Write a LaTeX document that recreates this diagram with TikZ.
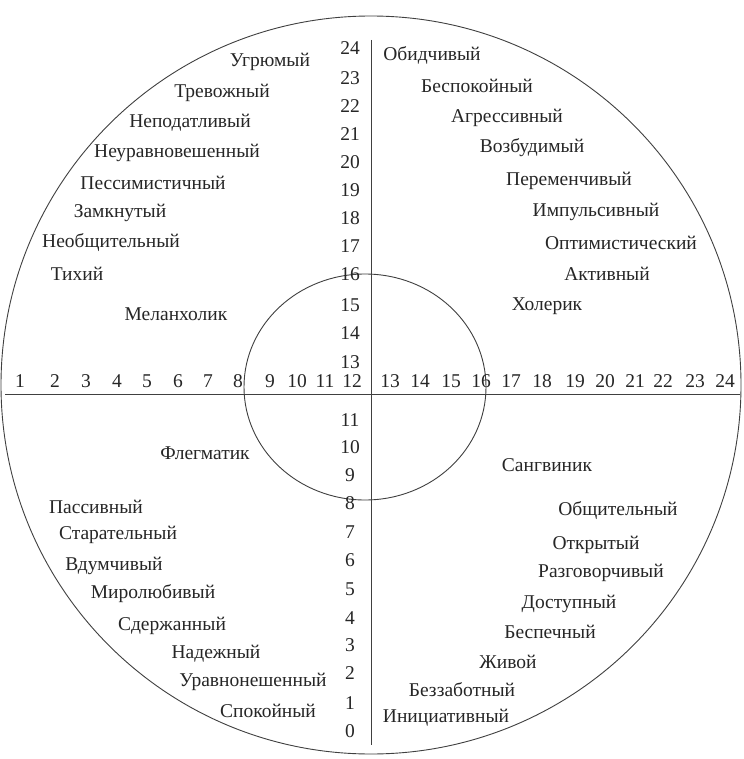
\documentclass[tikz,border=0pt]{standalone}
\usepackage{fontspec}
\usetikzlibrary{shapes.geometric}
\setmainfont{Liberation Serif}
\begin{document}
\begin{tikzpicture}[x=1pt,y=-1pt,
  lbl/.style={font=\fontsize{19.5}{21}\selectfont, text=black!85, inner sep=0pt},
  ln/.style={draw=black!75, line width=0.9pt}]
\useasboundingbox (0,0) rectangle (743,759);
\fill[white] (0,0) rectangle (743,759);
\node[ln, ellipse, minimum width=740, minimum height=738, inner sep=0] (big) at (371,385) {};
\draw[ln] (365,387) ellipse [x radius=121, y radius=113];
\coordinate (vt) at (371,40); \coordinate (vb) at (371,745);
\coordinate (hl) at (5,394); \coordinate (hr) at (740,394);
\draw[ln] (vt) -- (vb);
\draw[ln] (hl) -- (hr);
% vertical numbers
\foreach \n/\y in {24/48,23/78,22/106,21/134,20/162,19/190,18/218,17/246,16/274,15/305,14/333,13/362,
  11/420,10/447,9/475,8/503,7/532,6/560,5/589,4/618,3/645,2/673,1/703,0/731}
  \node[lbl, anchor=center] (v\n) at (350,\y) {\n};
% horizontal numbers
\foreach \n/\x in {1/20,2/55,3/86,4/117,5/147,6/178,7/208,8/238,9/270,10/297,11/325,12/352,13/390,14/420,15/451,16/481,17/511,18/542,19/575,20/605,21/635,22/663,23/695,24/725}
  \node[lbl] (h\n) at (\x,381) {\n};
% labels
\foreach \t/\x/\y [count=\i] in {Угрюмый/270/62,Тревожный/222/93,Неподатливый/190/123,Неуравновешенный/177/153,Пессимистичный/153/183,Замкнутый/120/213,Необщительный/111/243,Тихий/77/274,Меланхолик/176/314,
 Обидчивый/432/55,Беспокойный/477/86,Агрессивный/507/118,Возбудимый/532/148,Переменчивый/569/181,Импульсивный/596/212,Оптимистический/621/243,Активный/607/274,Холерик/547/306,
 Флегматик/205/453,Сангвиник/547/465,Пассивный/96/507,Старательный/118/535,Вдумчивый/114/566,Миролюбивый/153/594,Сдержанный/172/626,Надежный/216/654,Уравнонешенный/253/682,Спокойный/268/711,
 Общительный/618/511,Открытый/596/545,Разговорчивый/601/573,Доступный/569/604,Беспечный/550/632,Живой/508/662,Беззаботный/462/690,Инициативный/446/718}
  \node[lbl] (t\i) at (\x,\y) {\t};
\end{tikzpicture}
\end{document}
